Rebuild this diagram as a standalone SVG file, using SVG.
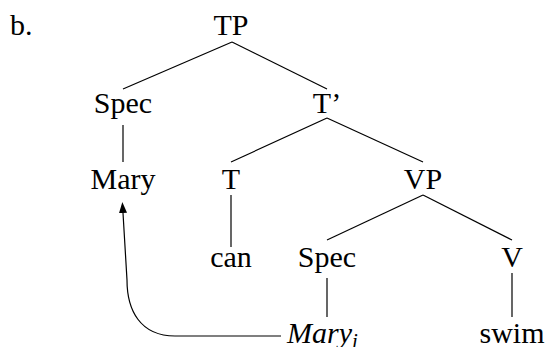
<svg xmlns="http://www.w3.org/2000/svg" width="546" height="347" viewBox="0 0 546 347">
<defs>
<marker id="ah" markerWidth="11" markerHeight="8" refX="0" refY="4" orient="auto" markerUnits="userSpaceOnUse">
<path d="M0,0 L11,4 L0,8 Z" fill="#000"/>
</marker>
</defs>
<rect width="546" height="347" fill="#fff"/>
<text x="10" y="35" style="font-family:'Liberation Serif','Times New Roman',serif;font-size:30px">b.</text>
<g id="connectors" stroke="#000" stroke-width="1.2" fill="none">
<line x1="232" y1="42" x2="123" y2="89"/>
<line x1="232" y1="42" x2="327" y2="89"/>
<line x1="123" y1="125" x2="123" y2="162"/>
<line x1="327" y1="118" x2="231" y2="162"/>
<line x1="327" y1="118" x2="423" y2="162"/>
<line x1="231" y1="195" x2="231" y2="247"/>
<line x1="423" y1="195" x2="327" y2="240"/>
<line x1="423" y1="195" x2="512" y2="240"/>
<line x1="327" y1="278" x2="327" y2="317"/>
<line x1="512" y1="273" x2="512" y2="317"/>
<path d="M281,336 L175,336 C140,336 127,310 127,280 L123,213" marker-end="url(#ah)"/>
</g>
<g id="TP"><text x="231" y="35" style="font-family:'Liberation Serif','Times New Roman',serif;font-size:30px;text-anchor:middle">TP</text></g>
<g id="Spec1"><text x="123" y="113" style="font-family:'Liberation Serif','Times New Roman',serif;font-size:30px;text-anchor:middle">Spec</text></g>
<g id="Tbar"><text x="327" y="113" style="font-family:'Liberation Serif','Times New Roman',serif;font-size:30px;text-anchor:middle">T&#8217;</text></g>
<g id="Mary"><text x="123" y="189" style="font-family:'Liberation Serif','Times New Roman',serif;font-size:30px;text-anchor:middle">Mary</text></g>
<g id="T"><text x="231" y="189" style="font-family:'Liberation Serif','Times New Roman',serif;font-size:30px;text-anchor:middle">T</text></g>
<g id="VP"><text x="423" y="189" style="font-family:'Liberation Serif','Times New Roman',serif;font-size:30px;text-anchor:middle">VP</text></g>
<g id="can"><text x="231" y="267" style="font-family:'Liberation Serif','Times New Roman',serif;font-size:30px;text-anchor:middle">can</text></g>
<g id="Spec2"><text x="327" y="267" style="font-family:'Liberation Serif','Times New Roman',serif;font-size:30px;text-anchor:middle">Spec</text></g>
<g id="V"><text x="512" y="267" style="font-family:'Liberation Serif','Times New Roman',serif;font-size:30px;text-anchor:middle">V</text></g>
<g id="Maryi"><text x="287" y="343" style="font-family:'Liberation Serif','Times New Roman',serif;font-size:30px;font-style:italic">Mary<tspan style="font-size:21px" dy="5">i</tspan></text></g>
<g id="swim"><text x="512" y="343" style="font-family:'Liberation Serif','Times New Roman',serif;font-size:30px;text-anchor:middle">swim</text></g>
</svg>
